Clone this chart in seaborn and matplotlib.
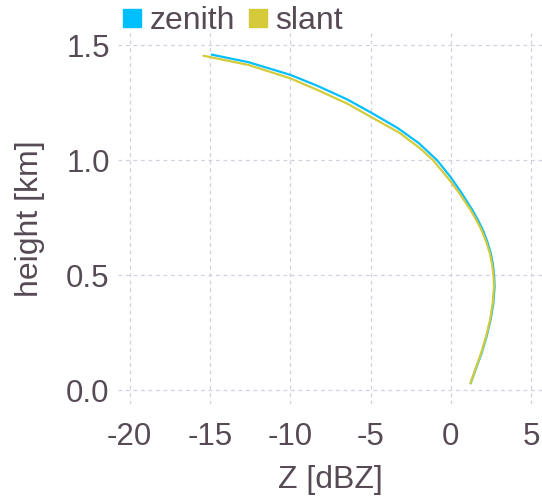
import matplotlib
matplotlib.use("Agg")
import matplotlib.pyplot as plt
from matplotlib.lines import Line2D
import seaborn as sns
import pandas as pd

# Reflectivity profiles: height [km] vs Z [dBZ]
zenith_height = [0.031, 0.10, 0.162, 0.235, 0.307, 0.38, 0.451, 0.50, 0.55, 0.597,
                 0.65, 0.698, 0.741, 0.785, 0.86, 0.93, 1.00, 1.075, 1.14, 1.205,
                 1.265, 1.324, 1.372, 1.427, 1.46]
zenith_z = [1.23, 1.58, 1.91, 2.22, 2.47, 2.64, 2.72, 2.69, 2.61, 2.48,
            2.25, 1.98, 1.68, 1.33, 0.65, -0.05, -0.85, -2.00, -3.30, -4.90,
            -6.45, -8.30, -10.00, -12.60, -14.90]

slant_height = [0.031, 0.10, 0.162, 0.235, 0.307, 0.38, 0.451, 0.50, 0.55, 0.597,
                0.65, 0.698, 0.741, 0.785, 0.86, 0.92, 1.00, 1.053, 1.12, 1.188,
                1.245, 1.303, 1.357, 1.415, 1.455]
slant_z = [1.22, 1.56, 1.88, 2.19, 2.44, 2.60, 2.68, 2.65, 2.56, 2.42,
           2.18, 1.90, 1.58, 1.22, 0.50, -0.15, -1.10, -1.93, -3.20, -4.95,
           -6.40, -8.20, -10.00, -12.60, -15.40]

series_names = ["zenith", "slant"]
series_colors = ["#00BFFF", "#D4CA3A"]
x_ticks = [-20, -15, -10, -5, 0, 5]
y_ticks = [0.0, 0.5, 1.0, 1.5]

df = pd.concat([
    pd.DataFrame({"Z": zenith_z, "height": zenith_height, "series": "zenith"}),
    pd.DataFrame({"Z": slant_z, "height": slant_height, "series": "slant"}),
], ignore_index=True)

sns.set_theme(style="white")
plt.rcParams["font.family"] = ["Liberation Sans", "DejaVu Sans"]
plt.rcParams["axes.unicode_minus"] = False

text_color = "#564A55"
grid_color = "#D0D0E0"

fig = plt.figure(figsize=(5.42, 4.97), dpi=100)
ax = fig.add_axes([0.2177, 0.1871, 0.7823, 0.7465])

sns.lineplot(data=df, x="Z", y="height", hue="series", hue_order=series_names,
             palette=series_colors, sort=False, estimator=None,
             linewidth=1.6, legend=False, ax=ax)
for line in ax.lines:
    line.set_solid_joinstyle("round")

ax.set_xlim(-20.73, 5.67)
ax.set_ylim(-0.059, 1.554)
ax.set_xticks(x_ticks)
ax.set_xticklabels([str(t) for t in x_ticks])
ax.set_yticks(y_ticks)
ax.set_yticklabels([f"{t:.1f}" for t in y_ticks])

for s in ax.spines.values():
    s.set_visible(False)
ax.grid(True, color=grid_color, linestyle=(0, (3, 3)), linewidth=0.9)
ax.set_axisbelow(True)
ax.tick_params(axis="both", length=0, labelsize=22.5, colors=text_color)
ax.tick_params(axis="x", pad=13)
ax.tick_params(axis="y", pad=6)

ax.set_xlabel("Z [dBZ]", fontsize=23, color=text_color, labelpad=9)
ax.set_ylabel("height [km]", fontsize=23, color=text_color, labelpad=15)

handles = [Line2D([], [], marker="s", linestyle="none", markersize=13,
                  markerfacecolor=c, markeredgecolor=c) for c in series_colors]
fig.legend(handles, series_names, loc="center left",
           bbox_to_anchor=(121 / 542, 1 - 21 / 497), ncol=2, frameon=False,
           fontsize=23, labelcolor=text_color, handlelength=0.7,
           handletextpad=0.2, columnspacing=0.35, borderaxespad=0,
           borderpad=0)

fig.savefig("out.png", dpi=100)
